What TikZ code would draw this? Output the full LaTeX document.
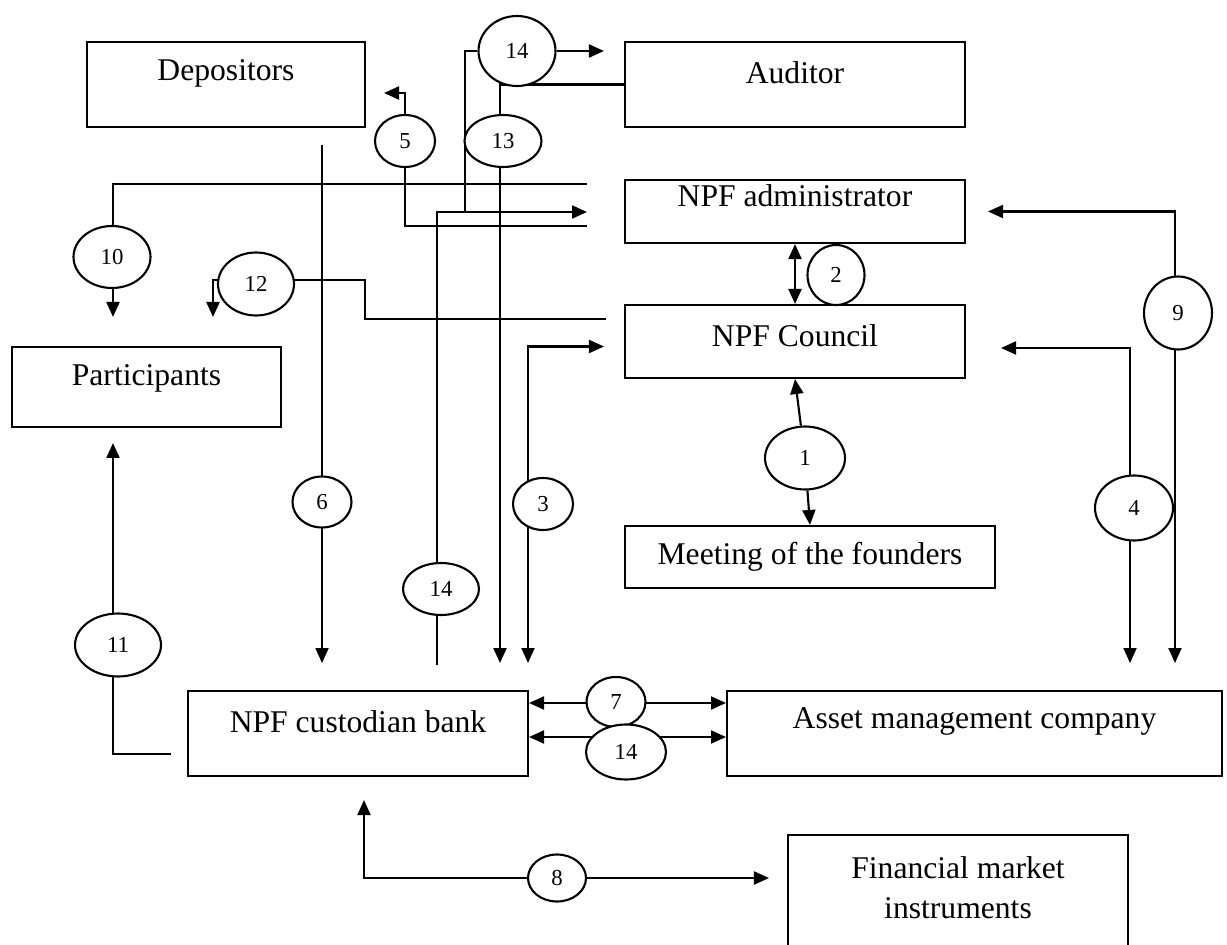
\documentclass[tikz,border=0pt]{standalone}
\usepackage{fontspec}
\setmainfont{Liberation Serif}
\usetikzlibrary{arrows.meta,shapes.geometric,backgrounds}
\definecolor{FundLine}{HTML}{000000}

\begin{document}
\begin{tikzpicture}[x=0.02cm,y=-0.02cm,
    box/.style={draw=FundLine,line width=1.2pt,fill=white,inner sep=0pt},
    txt/.style={font=\fontsize{18}{23}\selectfont},
    num/.style={ellipse,draw=FundLine,line width=1.2pt,fill=white,inner sep=0pt,font=\fontsize{13}{15}\selectfont},
    link/.style={draw=FundLine,line width=1.2pt},
    arr/.style={link,-{Triangle[length=0.3cm,width=0.26cm]}},
    arrs/.style={link,{Triangle[length=0.3cm,width=0.26cm]}-{Triangle[length=0.3cm,width=0.26cm]}}]
  \useasboundingbox (0,0) rectangle (1227,945);
  % participants of the fund
  \node[box,minimum width=5.56cm,minimum height=1.7cm,label={[txt,yshift=0.23cm]center:Depositors}] (dep) at (226,84.5) {};
  \node[box,minimum width=6.8cm,minimum height=1.7cm,label={[txt,yshift=0.23cm]center:Auditor}] (aud) at (795,84.5) {};
  \node[box,minimum width=6.8cm,minimum height=1.26cm,label={[txt,yshift=0.31cm]center:NPF administrator}] (adm) at (795,211.5) {};
  \node[box,minimum width=6.8cm,minimum height=1.46cm,label={[txt,yshift=0.11cm]center:NPF Council}] (cou) at (795,341.5) {};
  \node[box,minimum width=5.38cm,minimum height=1.6cm,label={[txt,yshift=0.18cm]center:Participants}] (par) at (146.5,387) {};
  \node[box,minimum width=7.4cm,minimum height=1.24cm,label={[txt]center:Meeting of the founders}] (mee) at (810,557) {};
  \node[box,minimum width=6.8cm,minimum height=1.7cm,label={[txt,yshift=0.23cm]center:NPF custodian bank}] (cus) at (358,733.5) {};
  \node[box,minimum width=9.9cm,minimum height=1.7cm,label={[txt,yshift=0.25cm]center:Asset management company}] (ass) at (974.5,733.5) {};
  \node[box,minimum width=6.8cm,minimum height=2.6cm,label={[txt,align=center,yshift=0.25cm]center:{Financial market\\instruments}}] (fin) at (958,900) {};
  % numbered links
  \node[num,minimum width=1.54cm,minimum height=1.4cm] (n14a) at (517,51) {14};
  \node[num,minimum width=1.54cm,minimum height=1.04cm] (n13) at (503,141) {13};
  \node[num,minimum width=1.2cm,minimum height=1.04cm] (n5) at (405,141) {5};
  \node[num,minimum width=1.54cm,minimum height=1.24cm] (n10) at (112,257) {10};
  \node[num,minimum width=1.52cm,minimum height=1.26cm] (n12) at (256,284) {12};
  \node[num,minimum width=1.14cm,minimum height=1.2cm] (n2) at (836,275) {2};
  \node[num,minimum width=1.36cm,minimum height=1.46cm] (n9) at (1178,313) {9};
  \node[num,minimum width=1.6cm,minimum height=1.26cm] (n1) at (805,458) {1};
  \node[num,minimum width=1.18cm,minimum height=1.02cm] (n6) at (322,502) {6};
  \node[num,minimum width=1.2cm,minimum height=1.04cm] (n3) at (543,504) {3};
  \node[num,minimum width=1.56cm,minimum height=1.3cm] (n4) at (1134,508) {4};
  \node[num,minimum width=1.52cm,minimum height=1.04cm] (n14b) at (441,589) {14};
  \node[num,minimum width=1.72cm,minimum height=1.26cm] (n11) at (118,645) {11};
  \node[num,minimum width=1.18cm,minimum height=1cm] (n7) at (616,702) {7};
  \node[num,minimum width=1.6cm,minimum height=1.1cm] (n14c) at (626,752) {14};
  \node[num,minimum width=1.16cm,minimum height=0.94cm] (n8) at (557,878) {8};
  % free ends and bends
  \coordinate (s6) at (322,145);
  \coordinate (t6) at (322,663);
  \coordinate (t13) at (500,663);
  \coordinate (t3) at (528,663);
  \coordinate (t4) at (1130,663);
  \coordinate (t9) at (1175,663);
  \coordinate (a10) at (587,184);
  \coordinate (t10) at (113,317);
  \coordinate (a5) at (587,226);
  \coordinate (k5) at (405,93);
  \coordinate (a14) at (587,212);
  \coordinate (b14) at (437,665);
  \coordinate (j14) at (465,212);
  \coordinate (a12) at (606,319);
  \coordinate (k12) at (365,280);
  \coordinate (t12) at (213,317);
  \coordinate (a11) at (171,754);
  \coordinate (t11) at (113,443);
  \coordinate (k8) at (364,878);
  \begin{scope}[on background layer]
    \draw[arr,shorten >=0.4cm] (n14a.east) -- (n14a -| aud.west);
    \draw[link] (n14a.west) -| (j14);
    \draw[arr] (b14) |- (a14);
    \draw[arr] (aud.west) -| (t13);
    \draw[arr,shorten >=0.36cm] (a5) -| (k5) -- (k5 -| dep.east);
    \draw[arr] (a10) -| (t10);
    \draw[arr] (a12) -| (k12) -| (t12);
    \draw[arr] (s6) -- (t6);
    \draw[arrs,shorten <=0.4cm] ([yshift=-0.1cm]cou.west) -| (t3);
    \draw[arrs] (adm.south) -- (cou.north);
    \draw[arr] (n1) -- (cou.south);
    \draw[arr] (n1) -- (mee.north);
    \draw[arrs,shorten <=0.7cm] ([yshift=-0.13cm]cou.east) -| (t4);
    \draw[arrs,shorten <=0.44cm] (adm.east) -| (t9);
    \draw[arrs] ([yshift=0.61cm]cus.east) -- ([yshift=0.61cm]ass.west);
    \draw[arrs] ([yshift=-0.07cm]cus.east) -- ([yshift=-0.07cm]ass.west);
    \draw[arrs,shorten <=0.46cm,shorten >=0.36cm] (cus.south -| k8) -- (k8) -- (k8 -| fin.west);
    \draw[arr] (a11) -| (t11);
  \end{scope}
\end{tikzpicture}
\end{document}
